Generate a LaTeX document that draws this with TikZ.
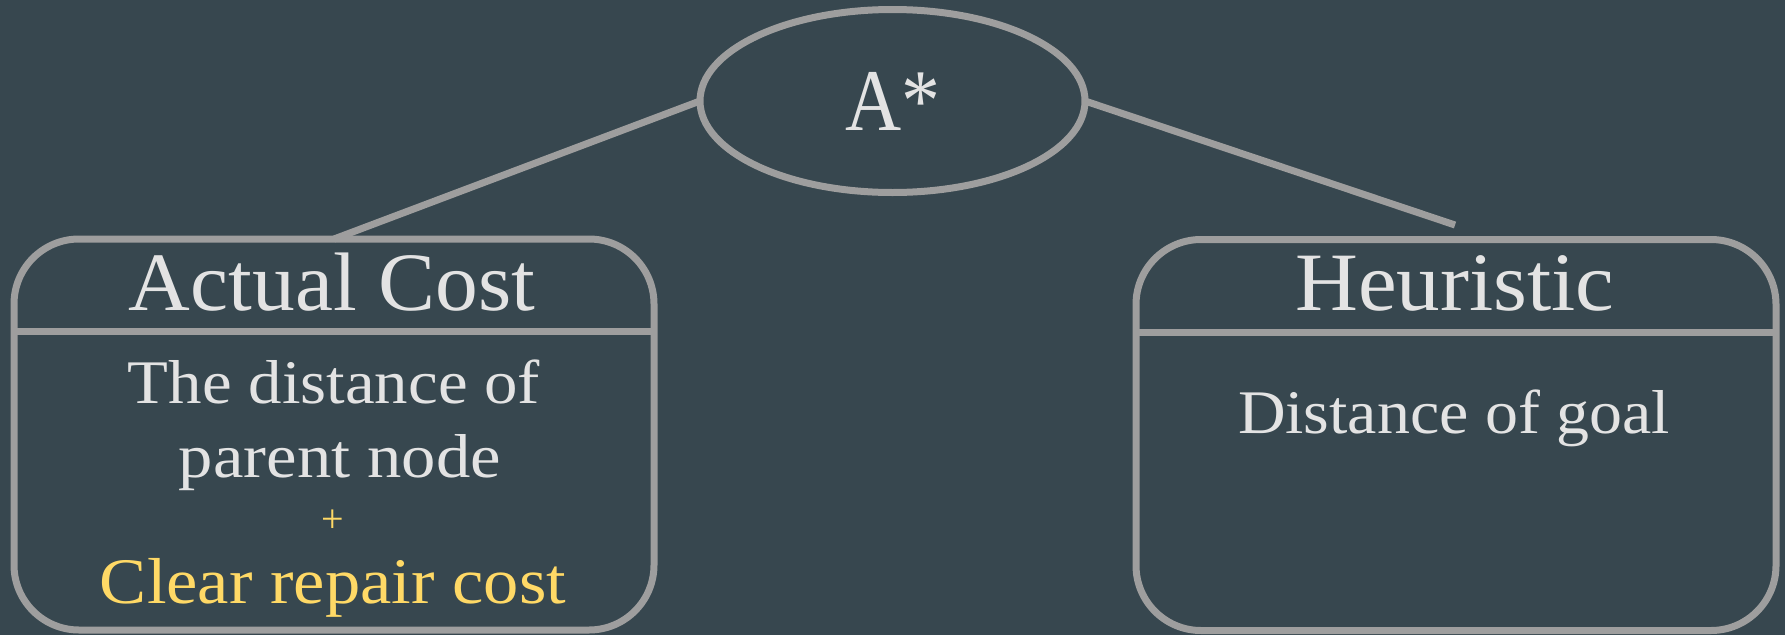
\documentclass[tikz,border=0pt]{standalone}
\usepackage{fontspec}
\setmainfont{Liberation Serif}
\usepackage{graphicx}
\usetikzlibrary{shapes.geometric}
\definecolor{bg}{HTML}{37474F}
\definecolor{edge}{HTML}{9E9E9E}
\definecolor{txt}{HTML}{E3E3E3}
\definecolor{gold}{HTML}{FFD966}
\newcommand\fitw[3]{\resizebox{#1pt}{\height}{\fontsize{#2}{#2}\selectfont #3}}
\begin{document}
\begin{tikzpicture}[x=1pt,y=-1pt,
  lbl/.style={inner sep=0pt, outer sep=0pt, anchor=base, text=txt},
  box/.style={draw=edge, line width=7pt, rounded corners=65pt, inner sep=0pt, outer sep=0pt, minimum width=640pt, minimum height=391pt},
  link/.style={draw=edge, line width=7pt},
  divider/.style={draw=edge, line width=7pt}]
\fill[bg] (0,0) rectangle (1785,635);
\useasboundingbox (0,0) rectangle (1785,635);
\node[draw=edge, line width=7pt, ellipse, minimum width=385pt, minimum height=183pt, inner sep=0pt, outer sep=0pt, text=txt] (astar) at (892.5,101) {\fitw{95}{88}{A*}};
\node[box] (lbox) at (334,434.5) {};
\node[box] (rbox) at (1456,435) {};
\coordinate (ldiv) at (0,331);
\coordinate (rdiv) at (0,332);
\draw[divider] (lbox.west |- ldiv) -- (lbox.east |- ldiv);
\draw[divider] (rbox.west |- rdiv) -- (rbox.east |- rdiv);
\node[lbl] (actual) at (332,310) {\fitw{406}{83}{Actual Cost}};
\node[lbl] (l1) at (334,403) {\fitw{412}{62}{The distance of}};
\node[lbl] (l2) at (340,477) {\fitw{322}{62}{parent node}};
\node[lbl, text=gold] (plus) at (333,532) {\fontsize{40}{40}\selectfont +};
\node[lbl, text=gold] (l3) at (333,603) {\fitw{466}{65}{Clear repair cost}};
\node[lbl] (heur) at (1455,310) {\fitw{319}{83}{Heuristic}};
\node[lbl] (goal) at (1454,433) {\fitw{432}{62}{Distance of goal}};
\coordinate (hend) at (1455,225);
\draw[link] (astar.west) -- (lbox.north);
\draw[link] (astar.east) -- (hend);
\end{tikzpicture}
\end{document}
